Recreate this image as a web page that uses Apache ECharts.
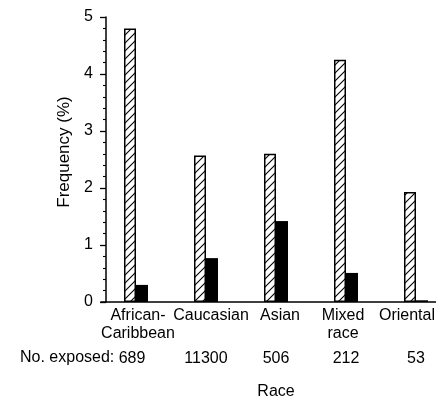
<!DOCTYPE html>
<html>
<head>
<meta charset="utf-8">
<script src="https://cdn.jsdelivr.net/npm/echarts@6/dist/echarts.min.js"></script>
<style>
html,body{margin:0;padding:0;background:#fff;}
#chart{width:436px;height:399px;}
</style>
</head>
<body>
<div id="chart"></div>
<script>
// ---- data ----
const categories = ['African-\nCaribbean', 'Caucasian', 'Asian', 'Mixed\nrace', 'Oriental'];
const exposedCounts = ['689', '11300', '506', '212', '53'];
const hatchedValues = [4.80, 2.57, 2.60, 4.25, 1.93];
const solidValues = [0.30, 0.77, 1.42, 0.51, 0.03];
const yTickMin = 0;
const yTickMax = 5;
const yTickStep = 1;
const yAxisTitle = 'Frequency (%)';
const xAxisTitle = 'Race';
const exposedTitle = 'No. exposed:';

// ---- styling ----
const FONT = '"Liberation Sans", Arial, Helvetica, sans-serif';
const labelNudge = [2, 5, 4, -3, -9]; // horizontal label shifts (px)

function hatchPattern() {
  const s = 8;
  const c = document.createElement('canvas');
  c.width = s; c.height = s;
  const g = c.getContext('2d');
  g.fillStyle = '#fff';
  g.fillRect(0, 0, s, s);
  g.strokeStyle = '#000';
  g.lineWidth = 1.1;
  g.beginPath();
  g.moveTo(-1, s + 1); g.lineTo(s + 1, -1);
  g.moveTo(-1, 1); g.lineTo(1, -1);
  g.moveTo(s - 1, s + 1); g.lineTo(s + 1, s - 1);
  g.stroke();
  return c;
}

function nudged(list) {
  return list.map((v, i) => {
    const n = labelNudge[i];
    const pad = n >= 0 ? [0, 0, 0, 2 * n] : [0, -2 * n, 0, 0];
    return { value: v, textStyle: { padding: pad } };
  });
}

const chart = echarts.init(document.getElementById('chart'), null, { renderer: 'canvas' });

chart.setOption({
  animation: false,
  backgroundColor: '#fff',
  textStyle: { fontFamily: FONT, color: '#000' },
  grid: { left: 101, right: -15, top: 17, bottom: 97, containLabel: false, outerBoundsMode: 'none' },
  xAxis: [
    {
      type: 'category',
      data: nudged(categories),
      boundaryGap: true,
      axisLine: { show: true, lineStyle: { color: '#000', width: 1.5 } },
      axisTick: { show: false },
      axisLabel: { interval: 0, fontSize: 16, lineHeight: 18, margin: 5, color: '#000', fontFamily: FONT },
      splitLine: { show: false },
      name: xAxisTitle,
      nameLocation: 'middle',
      nameGap: 82,
      nameTextStyle: { fontSize: 16, color: '#000', fontFamily: FONT }
    },
    {
      type: 'category',
      position: 'bottom',
      data: exposedCounts.map((v, i) => ({ value: v, textStyle: { padding: i === 0 ? [0, 8, 0, 0] : [0, 0, 0, 0] } })),
      boundaryGap: true,
      axisLine: { show: false },
      axisTick: { show: false },
      axisLabel: { interval: 0, fontSize: 16, margin: 49, color: '#000', fontFamily: FONT },
      splitLine: { show: false }
    }
  ],
  yAxis: {
    type: 'value',
    min: yTickMin,
    max: yTickMax,
    interval: yTickStep,
    offset: -5,
    axisLine: { show: true, lineStyle: { color: '#000', width: 1.5 } },
    axisTick: { show: true, inside: false, length: 6, lineStyle: { color: '#000', width: 1.3 } },
    minorTick: { show: true, splitNumber: 5, length: 3, lineStyle: { color: '#000', width: 1.1 } },
    splitLine: { show: false },
    minorSplitLine: { show: false },
    axisLabel: { fontSize: 16, margin: 13, color: '#000', fontFamily: FONT },
    name: yAxisTitle,
    nameLocation: 'middle',
    nameGap: 32,
    nameTextStyle: { fontSize: 17, color: '#000', fontFamily: FONT, padding: [0, 0, 0, 15] }
  },
  graphic: [
    {
      type: 'text',
      left: 20,
      top: 350,
      style: { text: exposedTitle, font: '16px ' + FONT, fill: '#000' }
    }
  ],
  series: [
    {
      type: 'bar',
      xAxisIndex: 0,
      data: hatchedValues,
      barWidth: 12,
      barGap: '0%',
      itemStyle: { color: { image: hatchPattern(), repeat: 'repeat' }, borderColor: '#000', borderWidth: 1.5 },
      emphasis: { disabled: true }
    },
    {
      type: 'bar',
      xAxisIndex: 0,
      data: solidValues,
      barWidth: 12,
      barGap: '0%',
      itemStyle: { color: '#000' },
      emphasis: { disabled: true }
    }
  ]
});
</script>
</body>
</html>
